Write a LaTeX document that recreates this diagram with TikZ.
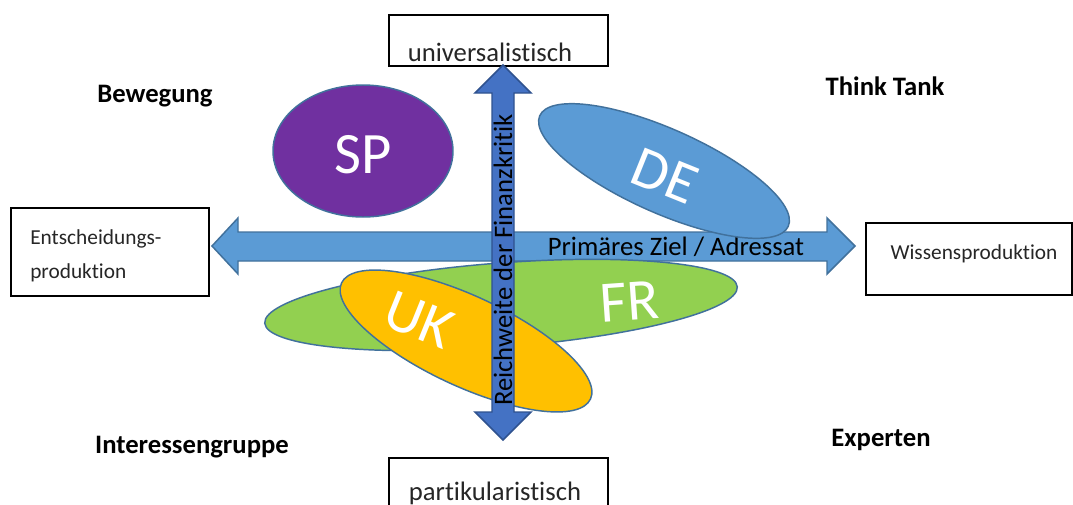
\documentclass[tikz,border=0pt]{standalone}
\usepackage{fontspec}
\setmainfont{Carlito}[Ligatures={NoCommon}]
\usetikzlibrary{shapes.geometric}
\definecolor{spc}{HTML}{7030A0}
\definecolor{dec}{HTML}{5B9BD5}
\definecolor{frc}{HTML}{92D050}
\definecolor{ukc}{HTML}{FFC000}
\definecolor{edgec}{HTML}{41719C}
\definecolor{varrow}{HTML}{4472C4}
\definecolor{varrowedge}{HTML}{2F528F}
\begin{document}
\begin{tikzpicture}[x=0.75pt,y=-0.75pt,
  box/.style={draw=black, line width=1.5pt, fill=white, inner sep=0pt},
  boxtext/.style={font=\fontsize{20}{24}\selectfont, text=black!85, inner sep=0pt},
  smalltext/.style={font=\fontsize{16}{25.5}\selectfont, text=black!85, inner sep=0pt},
  corner/.style={font=\bfseries\fontsize{20}{24}\selectfont, inner sep=0pt},
  blob/.style={ellipse, draw=edgec, line width=1.1pt, inner sep=0pt},
  big/.style={font=\fontsize{44}{50}\selectfont, text=white, inner sep=0pt},
  arrowtext/.style={font=\fontsize{20}{24}\selectfont, text=black, inner sep=0pt}]
\clip (0,0) rectangle (1073,504);
\fill[white] (0,0) rectangle (1073,504);

% boxes
\node[box, minimum width=164.25pt, minimum height=38.25pt] (topbox) at (498.5,40.5) {};
\node[boxtext] (toptext) at (490,52) {universalistisch};
\node[box, minimum width=164.25pt, minimum height=46.5pt] (botbox) at (498.5,489) {};
\node[boxtext] (bottext) at (495,493) {partikularistisch};
\node[box, minimum width=148.5pt, minimum height=66pt] (leftbox) at (110,252) {};
\node[smalltext, align=left, anchor=west] (lefttext) at (30,256) {Entscheidungs-\\produktion};
\node[box, minimum width=154.5pt, minimum height=54pt] (rightbox) at (969,259) {};
\node[smalltext] (righttext) at (974,254) {Wissensproduktion};

% corner labels
\node[corner] (bew) at (155,96) {Bewegung};
\node[corner] (tt) at (885,86) {Think Tank};
\node[corner] (ig) at (192,447) {Interessengruppe};
\node[corner] (exp) at (881,440) {Experten};

% horizontal arrow
\filldraw[fill=dec, draw=edgec, line width=1.1pt, line join=miter]
  (212,246) -- (238,218) -- (238,232) -- (827,232) -- (827,218) -- (855,246)
  -- (827,274) -- (827,261) -- (238,261) -- (238,274) -- cycle;
\node[arrowtext] (htext) at (676,247) {Primäres Ziel / Adressat};

% ellipses
\node[blob, fill=spc, minimum width=135pt, minimum height=99pt] (sp) at (363,151) {};
\node[big] at (363,155) {SP};
\node[blob, fill=dec, minimum width=204pt, minimum height=63pt, rotate=-24] (de) at (664,171) {};
\node[big, rotate=-22] at (665,176) {DE};
\node[blob, fill=frc, minimum width=355.5pt, minimum height=63pt, rotate=4.4] (fr) at (501,305) {};
\node[big, rotate=4] at (630,302) {FR};
\node[blob, fill=ukc, minimum width=206pt, minimum height=67.5pt, rotate=-25] (uk) at (466,341) {};
\node[big, rotate=-22] at (419,320) {UK};

% vertical arrow
\filldraw[fill=varrow, draw=varrowedge, line width=1.1pt, line join=miter]
  (503,65) -- (531,93) -- (514,93) -- (514,412) -- (531,412) -- (503,440)
  -- (475,412) -- (492,412) -- (492,93) -- (475,93) -- cycle;
\node[arrowtext, rotate=90] (vtext) at (503,260) {Reichweite der Finanzkritik};
\end{tikzpicture}
\end{document}
